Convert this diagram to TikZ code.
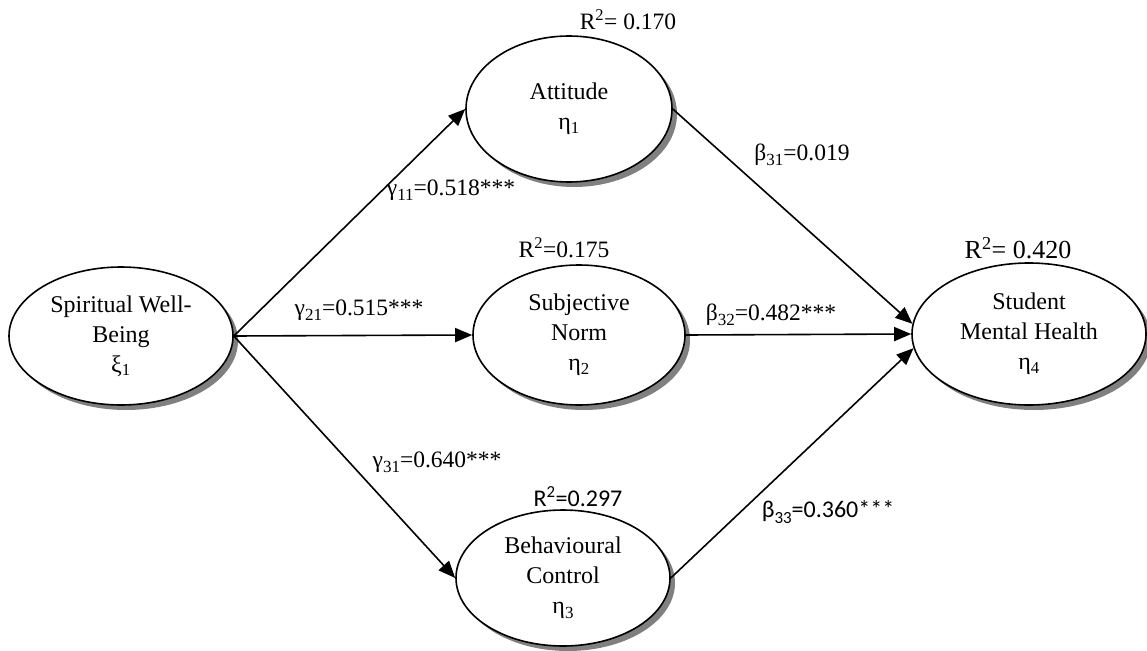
\documentclass[tikz,border=0pt]{standalone}
\usepackage{fontspec}
\setmainfont{Liberation Serif}
\newfontfamily\sansf{Carlito}
\usetikzlibrary{arrows.meta,shapes.geometric,shadows}
\newcommand\lsub[1]{\raisebox{-0.45ex}{\fontsize{17}{17}\selectfont #1}}
\begin{document}
\begin{tikzpicture}[x=1pt,y=-1pt,
  lat/.style={ellipse, draw, line width=1.6pt, fill=white, align=center, inner sep=0pt,
    font=\fontsize{24}{30}\selectfont,
    drop shadow={shadow xshift=5pt, shadow yshift=-5pt, fill=black!50, opacity=1}},
  arr/.style={-{Triangle[length=17pt,width=14pt]}, line width=1.6pt},
  lbl/.style={font=\fontsize{23.5}{28}\selectfont, inner sep=0pt},
  slbl/.style={font=\sansf\fontsize{24}{28}\selectfont, inner sep=0pt}]
\useasboundingbox (0,0) rectangle (1147,650);
\node[lat, minimum width=224pt, minimum height=138pt] (swb) at (121,336) {Spiritual Well-\\Being\\ξ\textsubscript{1}};
\node[lat, minimum width=206pt, minimum height=146pt] (att) at (569,109) {Attitude\\η\textsubscript{1}};
\node[lat, minimum width=212pt, minimum height=140pt] (sn) at (579,335) {Subjective\\Norm\\η\textsubscript{2}};
\node[lat, minimum width=214pt, minimum height=136pt] (bc) at (563,578) {Behavioural\\Control\\η\lsub{3}};
\node[lat, minimum width=234pt, minimum height=142pt] (smh) at (1029,334) {Student\\Mental Health\\η\textsubscript{4}};
\draw[arr] (swb.east) -- (att.west);
\draw[arr] (swb.east) -- (sn.west);
\draw[arr] (swb.east) -- (bc.west);
\draw[arr] (att.east) -- (smh.175);
\draw[arr] (sn.east) -- (smh.west);
\draw[arr] (bc.east) -- (smh.187);
\node[lbl] (r1) at (628,20) {R\textsuperscript{2}= 0.170};
\node[lbl] (g11) at (451,190) {γ\lsub{11}=0.518***};
\node[lbl] (r2) at (564,248) {R\textsuperscript{2}=0.175};
\node[lbl] (g21) at (359,310) {γ\lsub{21}=0.515***};
\node[lbl] (b32) at (771,315) {β\lsub{32}=0.482***};
\node[lbl] (b31) at (802,155) {β\lsub{31}=0.019};
\node[lbl, font=\fontsize{26}{30}\selectfont] (r4) at (1018,248) {R\textsuperscript{2}= 0.420};
\node[lbl] (g31) at (437,462) {γ\lsub{31}=0.640***};
\node[slbl] (r3) at (578,497) {R\textsuperscript{2}=0.297};
\node[slbl] (b33) at (828,512) {β\lsub{33}=0.360***};
\end{tikzpicture}
\end{document}
